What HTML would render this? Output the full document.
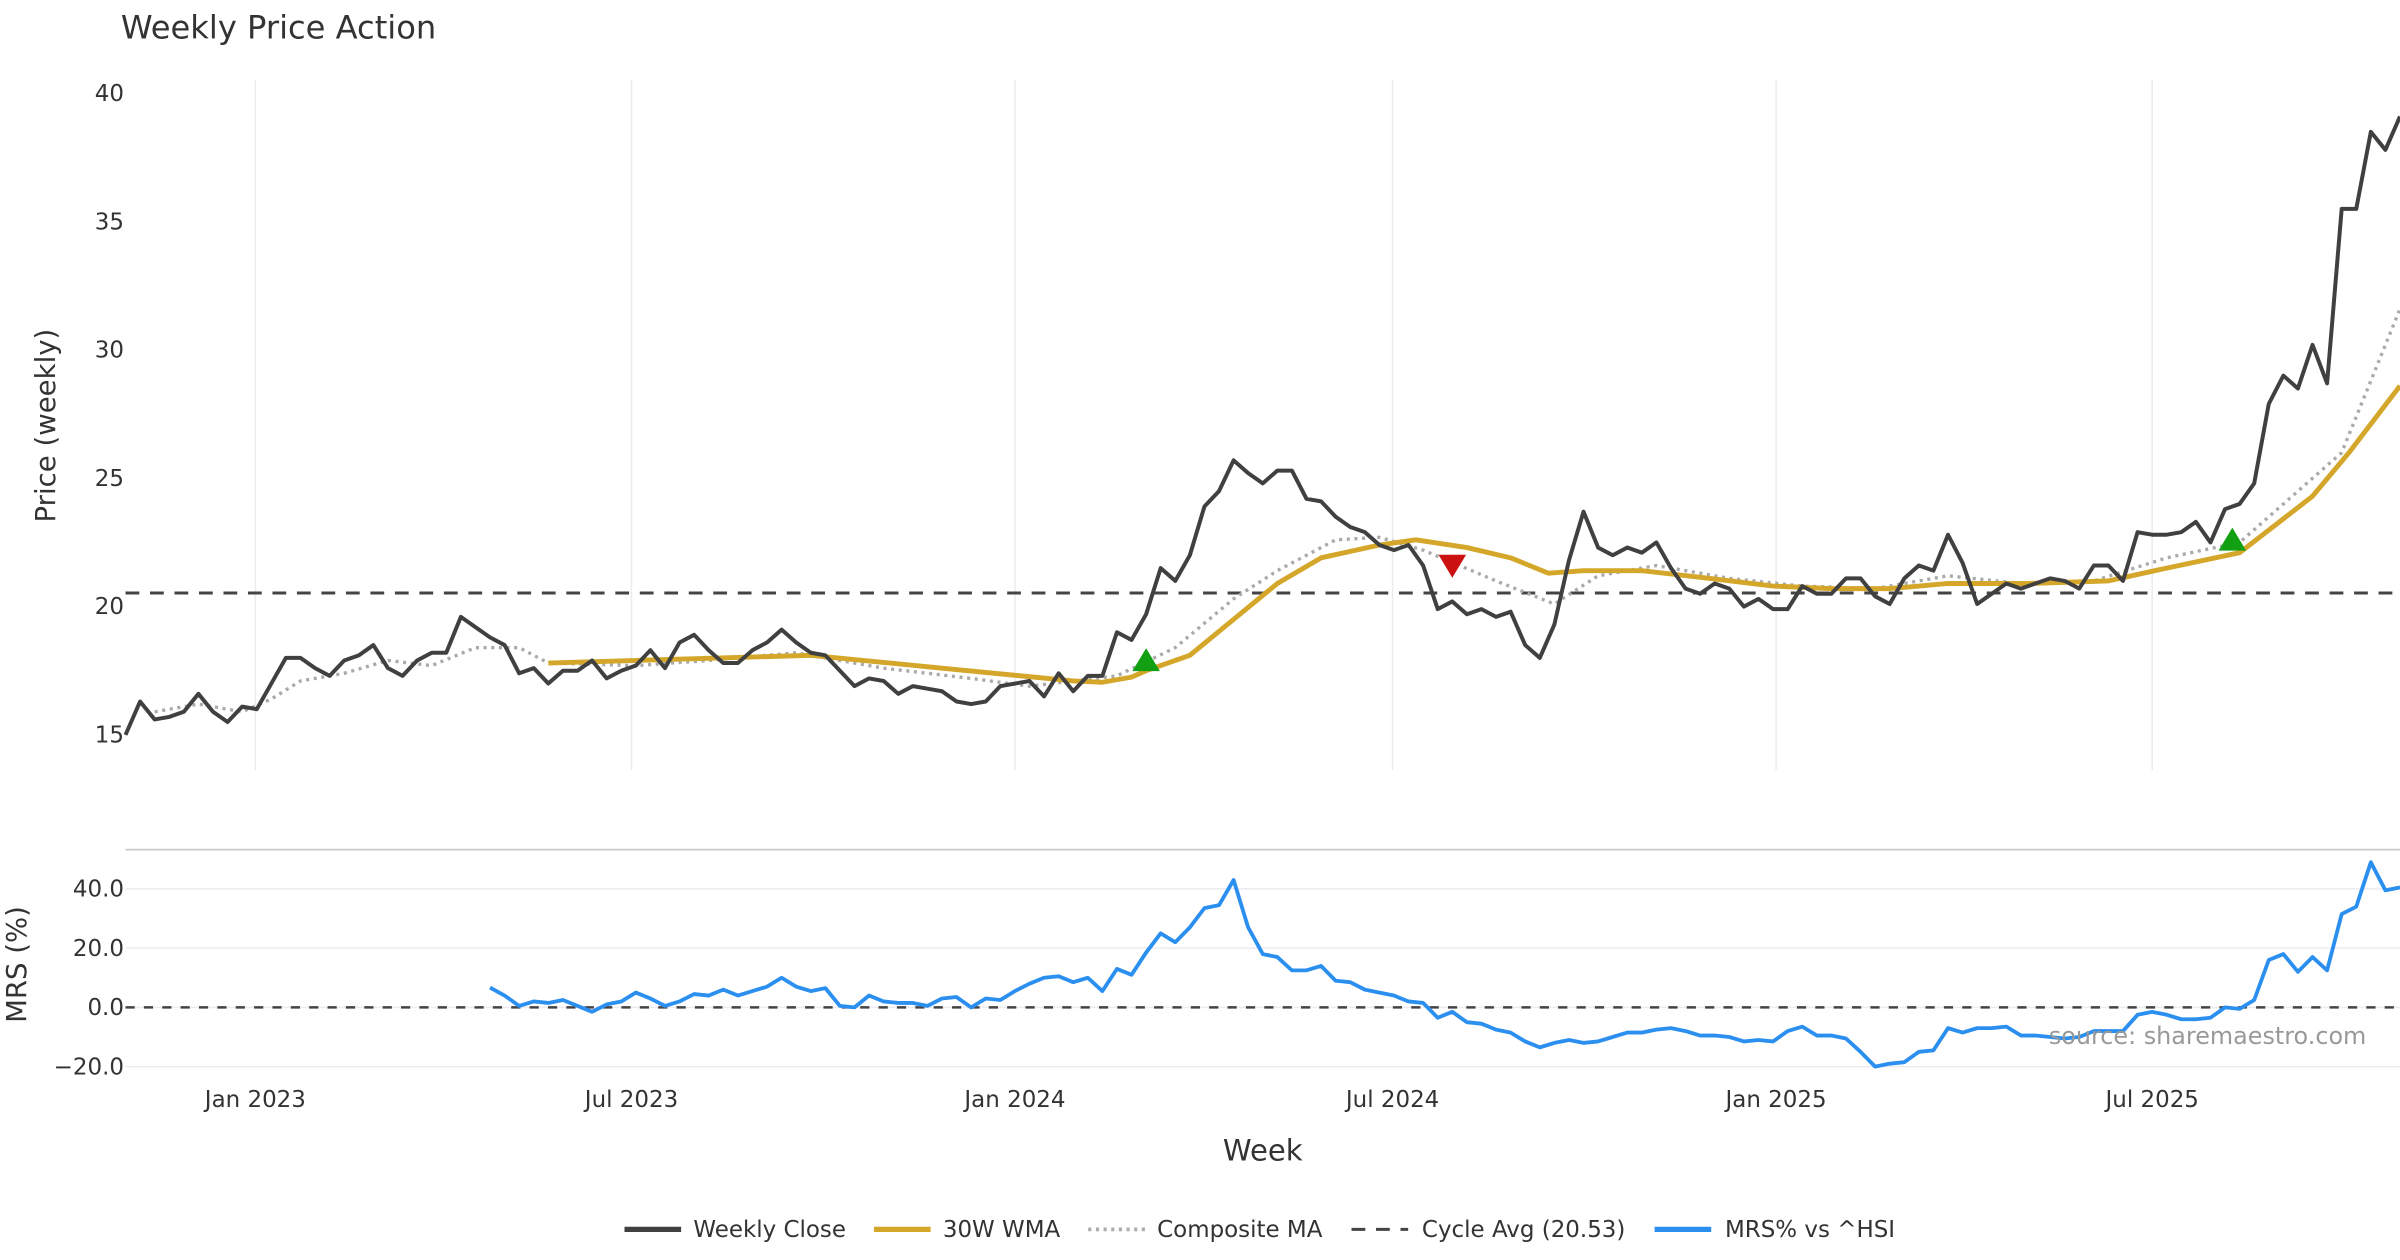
<!DOCTYPE html>
<html><head><meta charset="utf-8"><style>
html,body{margin:0;padding:0;background:#fff;}
svg{display:block;font-family:"DejaVu Sans","Liberation Sans",sans-serif;}
</style></head><body>
<svg id="chart" width="2400" height="1260" viewBox="0 0 1568 823" preserveAspectRatio="none" xmlns="http://www.w3.org/2000/svg">
<text x="79" y="25" font-size="21" fill="#333">Weekly Price Action</text>
<g id="grid"></g>
<g id="series"></g>
<text transform="translate(36,278) rotate(-90)" text-anchor="middle" font-size="18" fill="#333">Price (weekly)</text>
<text transform="translate(17,630) rotate(-90)" text-anchor="middle" font-size="18" fill="#333">MRS (%)</text>
<text x="825" y="758" text-anchor="middle" font-size="19" fill="#333">Week</text>
<text x="1546" y="682" text-anchor="end" font-size="15.6" fill="#999">source: sharemaestro.com</text>
<g id="legend" font-size="15" fill="#333">
<line x1="408" y1="803" x2="445" y2="803" stroke="#404040" stroke-width="3.5"/>
<text x="453" y="808">Weekly Close</text>
<line x1="571" y1="803" x2="608" y2="803" stroke="#d4a62a" stroke-width="3.5"/>
<text x="616" y="808">30W WMA</text>
<line x1="711" y1="803" x2="748" y2="803" stroke="#aaa" stroke-width="2.5" stroke-dasharray="2,3"/>
<text x="756" y="808">Composite MA</text>
<line x1="883" y1="803" x2="920" y2="803" stroke="#444" stroke-width="2" stroke-dasharray="9,7"/>
<text x="929" y="808">Cycle Avg (20.53)</text>
<line x1="1081" y1="803" x2="1118" y2="803" stroke="#2b8ff0" stroke-width="3.5"/>
<text x="1127" y="808">MRS% vs ^HSI</text>
</g>
</svg>
<script>
const closes=[15.0,16.3,15.6,15.7,15.9,16.6,15.9,15.5,16.1,16.0,17.0,18.0,18.0,17.6,17.3,17.9,18.1,18.5,17.6,17.3,17.9,18.2,18.2,19.6,19.2,18.8,18.5,17.4,17.6,17.0,17.5,17.5,17.9,17.2,17.5,17.7,18.3,17.6,18.6,18.9,18.3,17.8,17.8,18.3,18.6,19.1,18.6,18.2,18.1,17.5,16.9,17.2,17.1,16.6,16.9,16.8,16.7,16.3,16.2,16.3,16.9,17.0,17.1,16.5,17.4,16.7,17.3,17.3,19.0,18.7,19.7,21.5,21.0,22.0,23.9,24.5,25.7,25.2,24.8,25.3,25.3,24.2,24.1,23.5,23.1,22.9,22.4,22.2,22.4,21.6,19.9,20.2,19.7,19.9,19.6,19.8,18.5,18.0,19.3,21.8,23.7,22.3,22.0,22.3,22.1,22.5,21.5,20.7,20.5,20.9,20.7,20.0,20.3,19.9,19.9,20.8,20.5,20.5,21.1,21.1,20.4,20.1,21.1,21.6,21.4,22.8,21.7,20.1,20.5,20.9,20.7,20.9,21.1,21.0,20.7,21.6,21.6,21.0,22.9,22.8,22.8,22.9,23.3,22.5,23.8,24.0,24.8,27.9,29.0,28.5,30.2,28.7,35.5,35.5,38.5,37.8,39.1];
const wmaWeeks=[29,47,56,65,67,69,70,73,76,79,82,86,88.5,92,95,97.6,100,104,108.6,113,117,121,125,130.5,136,140,145,150,152.5,156];
const wmaValues=[17.8,18.1,17.6,17.1,17.05,17.25,17.5,18.1,19.5,20.9,21.9,22.4,22.6,22.3,21.9,21.3,21.4,21.4,21.1,20.8,20.7,20.7,20.9,20.9,21.0,21.5,22.1,24.3,26.0,28.6];
const compWeeks=[2,5,8,10,12,15,18,21,24,27,29,35,40,46,52,58,62,68,72,76,79,83,86,89,94,98,101,105,110,115,120,125,130,135,140,145,150,152,156];
const compValues=[15.9,16.2,15.9,16.4,17.1,17.4,17.9,17.7,18.4,18.4,17.8,17.7,17.9,18.2,17.6,17.2,16.9,17.3,18.4,20.3,21.4,22.6,22.7,22.2,21.0,20.1,21.2,21.6,21.1,20.8,20.7,21.2,20.9,21.0,21.9,22.5,25.0,26.0,31.6];
const mrs=[6.7,4,0.5,2,1.5,2.5,0.5,-1.5,1,2,5,3,0.5,2,4.5,4,6,4,5.5,7,10,7,5.5,6.5,0.5,0,4,2,1.5,1.5,0.5,3,3.5,0,3,2.5,5.5,8,10,10.5,8.5,10,5.5,13,11,18.5,25,22,27,33.5,34.5,43,27,18,17,12.5,12.5,14,9,8.5,6,5,4,2,1.5,-3.5,-1.5,-5,-5.5,-7.5,-8.5,-11.5,-13.5,-12,-11,-12,-11.5,-10,-8.5,-8.5,-7.5,-7,-8,-9.5,-9.5,-10,-11.5,-11,-11.5,-8,-6.5,-9.5,-9.5,-10.5,-15,-20,-19,-18.5,-15,-14.5,-7,-8.5,-7,-7,-6.5,-9.5,-9.5,-10,-10.5,-10,-8,-8,-8,-2.5,-1.5,-2.5,-4,-4,-3.5,0,-0.5,2.5,16,18,12,17,12.5,31.5,34,49,39.5,40.5];
const cycleAvg=20.53;
const signalWeeks=[70,91,144.5];
const signalPrices=[17.9,21.6,22.6];
const signalTypes=['buy','sell','buy'];
const priceTicks=[15,20,25,30,35,40];
const mrsTicks=[-20,0,20,40];
const mrsTickLabels=['\u221220.0','0.0','20.0','40.0'];
const dateTickWeeks=[8.8,34.6,60.9,86.8,113.1,138.9];
const dateTickLabels=['Jan 2023','Jul 2023','Jan 2024','Jul 2024','Jan 2025','Jul 2025'];

const NS='http://www.w3.org/2000/svg';
const X0=82,X1=1568,N=closes.length-1;
const xS=i=>X0+i*(X1-X0)/N;
const yP=p=>480-(p-15)*16.76;
const yM=v=>658-v*1.935;
const grid=document.getElementById('grid'),ser=document.getElementById('series');
function mk(tag,attrs,parent){const e=document.createElementNS(NS,tag);for(const k in attrs)e.setAttribute(k,attrs[k]);parent.appendChild(e);return e;}
dateTickWeeks.forEach((w,k)=>{
  const l=mk('line',{x1:xS(w)+1,x2:xS(w)+1,y1:52,y2:503,stroke:'#ececf0','stroke-width':1},grid);
  
  
  const t=mk('text',{x:xS(w)+1,y:723,'text-anchor':'middle','font-size':15,fill:'#333'},grid);
  t.textContent=dateTickLabels[k];
  
  
});
priceTicks.forEach(p=>{
  const t=mk('text',{x:81,y:yP(p)+5,'text-anchor':'end','font-size':15,fill:'#333'},grid);
  t.textContent=p;
  
  
});
const sep=mk('line',{x1:82,x2:1568,y1:555,y2:555,stroke:'#ccc','stroke-width':1.2},grid);


mrsTicks.forEach((v,k)=>{
  const l=mk('line',{x1:82,x2:1568,y1:yM(v),y2:yM(v),stroke:'#ececf0','stroke-width':1},grid);
  
  
  const t=mk('text',{x:81,y:yM(v)+5,'text-anchor':'end','font-size':15,fill:'#333'},grid);
  t.textContent=mrsTickLabels[k];
  
  
});
const cyc=mk('line',{x1:82,x2:1568,y1:yP(cycleAvg),y2:yP(cycleAvg),stroke:'#444','stroke-width':2,'stroke-dasharray':'9,7'},ser);


const z=mk('line',{x1:82,x2:1568,y1:yM(0),y2:yM(0),stroke:'#444','stroke-width':1.6,'stroke-dasharray':'6,6'},ser);


const pts=(ws,vs,fy)=>ws.map((w,i)=>xS(w).toFixed(2)+','+fy(vs[i]).toFixed(2)).join(' ');
const comp=mk('polyline',{points:pts(compWeeks,compValues,yP),fill:'none',stroke:'#aaa','stroke-width':2.2,'stroke-dasharray':'2,3'},ser);


const wma=mk('polyline',{points:pts(wmaWeeks,wmaValues,yP),fill:'none',stroke:'#d4a62a','stroke-width':3.2,'stroke-linejoin':'round'},ser);


const cl=mk('polyline',{points:pts(closes.map((_,i)=>i),closes,yP),fill:'none',stroke:'#404040','stroke-width':2.6,'stroke-linejoin':'round'},ser);


const mStart=N-(mrs.length-1);
const ml=mk('polyline',{points:pts(mrs.map((_,i)=>i+mStart),mrs,yM),fill:'none',stroke:'#2b8ff0','stroke-width':2.5,'stroke-linejoin':'round'},ser);


signalWeeks.forEach((w,k)=>{
  const x=xS(w),y=yP(signalPrices[k]);
  const d=signalTypes[k]==='buy'?`M${x-9},${y+7} L${x+9},${y+7} L${x},${y-8} Z`:`M${x-9},${y-7} L${x+9},${y-7} L${x},${y+8} Z`;
  const m=mk('path',{d:d,fill:signalTypes[k]==='buy'?'#12a012':'#cc1111'},ser);
  
  
});
</script>
</body></html>
